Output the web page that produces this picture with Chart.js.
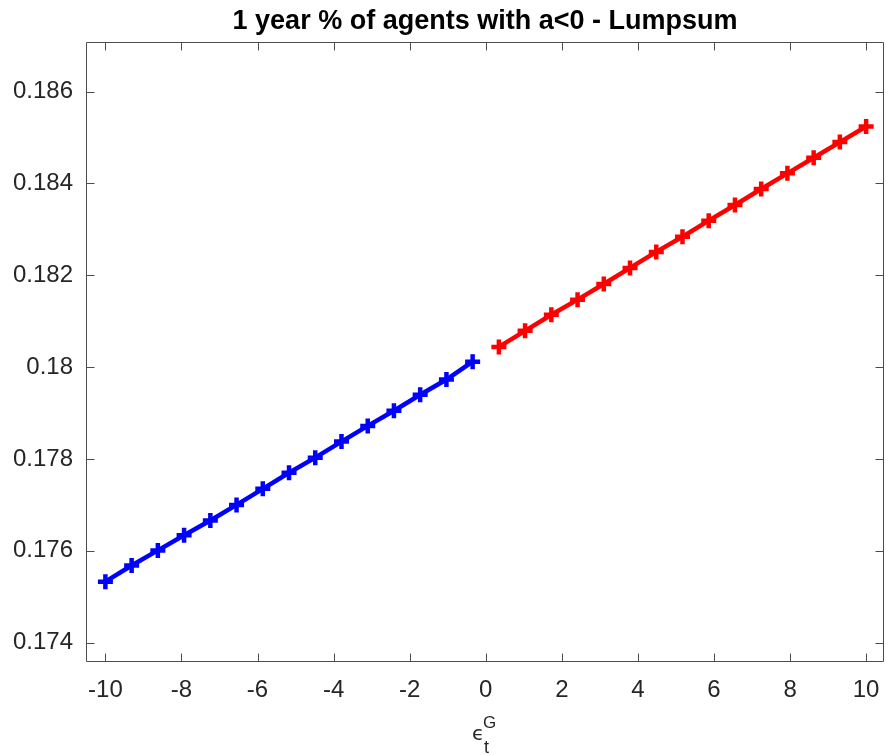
<!DOCTYPE html>
<html>
<head>
<meta charset="utf-8">
<script src="https://cdn.jsdelivr.net/npm/chart.js@4/dist/chart.umd.min.js"></script>
<style>
  html, body { margin: 0; padding: 0; background: #ffffff; }
  #wrap { width: 886px; height: 755px; }
</style>
</head>
<body>
<div id="wrap"><canvas id="c" width="886" height="755"></canvas></div>
<script>
const chartTitle = "1 year % of agents with a<0 - Lumpsum";
const negX = [-10, -9.31, -8.621, -7.931, -7.241, -6.552, -5.862, -5.172, -4.483, -3.793, -3.103, -2.414, -1.724, -1.034, -0.345];
const negY = [0.17533, 0.17568, 0.17601, 0.17634, 0.17666, 0.17700, 0.17735, 0.17770, 0.17803, 0.17838, 0.17872, 0.17905, 0.17940, 0.17973, 0.18012];
const posX = [0.345, 1.034, 1.724, 2.414, 3.103, 3.793, 4.483, 5.172, 5.862, 6.552, 7.241, 7.931, 8.621, 9.31, 10];
const posY = [0.18044, 0.18079, 0.18114, 0.18147, 0.18181, 0.18216, 0.18251, 0.18284, 0.18319, 0.18353, 0.18388, 0.18422, 0.18456, 0.18490, 0.18524];
const xTicks = [-10, -8, -6, -4, -2, 0, 2, 4, 6, 8, 10];
const yTicks = [0.174, 0.176, 0.178, 0.18, 0.182, 0.184, 0.186];

const FONT = "'Liberation Sans', Arial, Helvetica, sans-serif";
const AXIS_COLOR = '#4d4d4d';
const TEXT_COLOR = '#262626';

function toPoints(xs, ys) { return xs.map((x, i) => ({ x: x, y: ys[i] })); }

const boxPlugin = {
  id: 'box',
  afterDraw(chart) {
    const ctx = chart.ctx;
    const a = chart.chartArea;
    const xs = chart.scales.x, ys = chart.scales.y;
    const L = Math.round(a.left) + 0.5, R = Math.round(a.right) - 0.5;
    const T = Math.round(a.top) + 0.5, B = Math.round(a.bottom) - 0.5;
    const tl = 8;
    ctx.save();
    ctx.strokeStyle = AXIS_COLOR;
    ctx.lineWidth = 1;
    ctx.beginPath();
    ctx.rect(L, T, R - L, B - T);
    xs.ticks.forEach(t => {
      const px = Math.round(xs.getPixelForValue(t.value)) + 0.5;
      ctx.moveTo(px, B); ctx.lineTo(px, B - tl);
      ctx.moveTo(px, T); ctx.lineTo(px, T + tl);
    });
    ys.ticks.forEach(t => {
      const py = Math.round(ys.getPixelForValue(t.value)) + 0.5;
      ctx.moveTo(L, py); ctx.lineTo(L + tl, py);
      ctx.moveTo(R, py); ctx.lineTo(R - tl, py);
    });
    ctx.stroke();
    // x-axis label: epsilon with subscript t and superscript G
    ctx.fillStyle = TEXT_COLOR;
    ctx.textBaseline = 'alphabetic';
    ctx.textAlign = 'left';
    ctx.font = "20px 'DejaVu Sans', " + FONT;
    ctx.fillText('\u03F5', 472, 740);
    ctx.font = '17px ' + FONT;
    ctx.fillText('G', 483, 727.5);
    ctx.font = '18px ' + FONT;
    ctx.fillText('t', 484, 753);
    ctx.restore();
  }
};

new Chart(document.getElementById('c'), {
  type: 'line',
  data: {
    datasets: [
      {
        data: toPoints(negX, negY),
        borderColor: '#0000ff',
        backgroundColor: '#0000ff',
        borderWidth: 4.5,
        pointStyle: 'cross',
        pointRadius: 7.5,
        pointBorderWidth: 4.5,
        pointHoverRadius: 7.5,
        tension: 0,
        clip: false
      },
      {
        data: toPoints(posX, posY),
        borderColor: '#ff0000',
        backgroundColor: '#ff0000',
        borderWidth: 4.5,
        pointStyle: 'cross',
        pointRadius: 7.5,
        pointBorderWidth: 4.5,
        pointHoverRadius: 7.5,
        tension: 0,
        clip: false
      }
    ]
  },
  options: {
    responsive: false,
    animation: false,
    events: [],
    layout: { autoPadding: false, padding: { left: 0, right: 2, top: 0, bottom: 0 } },
    plugins: {
      legend: { display: false },
      tooltip: { enabled: false },
      title: {
        display: true,
        text: chartTitle,
        fullSize: false,
        color: '#000000',
        font: { family: FONT, size: 27, weight: 'bold', lineHeight: 1.2 },
        padding: { top: 5, bottom: 4.6 }
      }
    },
    scales: {
      x: {
        type: 'linear',
        min: -10.51,
        max: 10.47,
        afterBuildTicks: s => { s.ticks = xTicks.map(v => ({ value: v })); },
        afterFit: s => { s.height = 93; },
        grid: { display: false, drawTicks: false },
        border: { display: false },
        ticks: {
          color: TEXT_COLOR,
          font: { family: FONT, size: 24, lineHeight: 2.367 },
          padding: 0,
          maxRotation: 0,
          autoSkip: false,
          callback: v => String(v)
        }
      },
      y: {
        type: 'linear',
        min: 0.17358,
        max: 0.18708,
        afterBuildTicks: s => { s.ticks = yTicks.map(v => ({ value: v })); },
        afterFit: s => { s.width = 86; },
        grid: { display: false, drawTicks: false },
        border: { display: false },
        ticks: {
          color: TEXT_COLOR,
          font: { family: FONT, size: 24 },
          padding: 13,
          autoSkip: false,
          callback: v => String(Number(v.toFixed(3)))
        }
      }
    }
  },
  plugins: [boxPlugin]
});
</script>
</body>
</html>
